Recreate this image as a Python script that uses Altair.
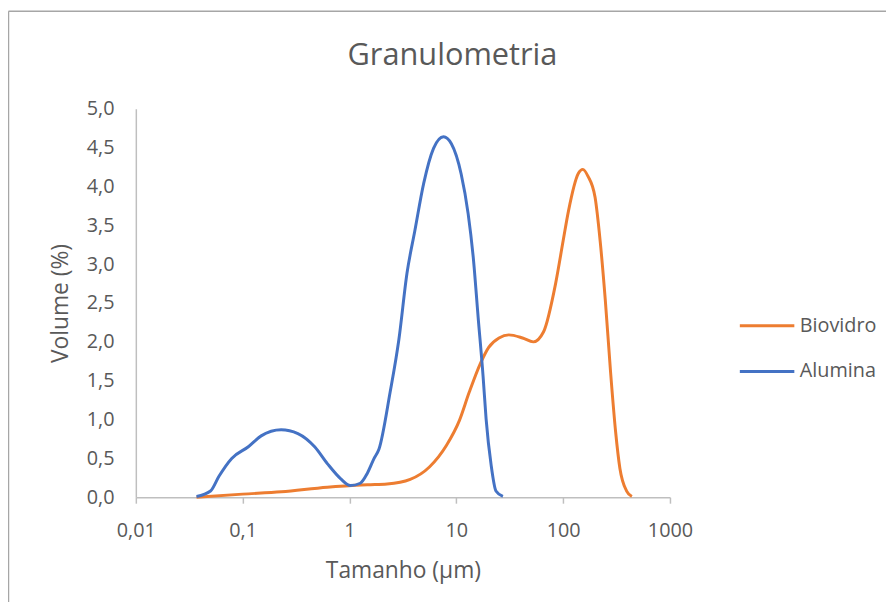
import altair as alt
import pandas as pd

# Alumina (blue)
alumina_x = [0.037, 0.050, 0.060, 0.079, 0.113, 0.149, 0.229, 0.329, 0.472, 0.623, 0.824, 1.02, 1.26, 1.47,
             1.70, 1.89, 2.40, 2.90, 3.45, 4.09, 4.95, 6.12, 7.59, 8.99, 11.1, 12.9, 14.4, 16.0, 17.8, 19.0,
             21.2, 23.5, 27.3]
alumina_y = [0.01, 0.08, 0.27, 0.50, 0.65, 0.79, 0.87, 0.82, 0.65, 0.43, 0.24, 0.15, 0.18, 0.31,
             0.50, 0.62, 1.35, 2.03, 2.88, 3.43, 4.04, 4.49, 4.64, 4.55, 4.16, 3.65, 3.09, 2.32, 1.56, 1.01,
             0.41, 0.08, 0.01]

# Biovidro (orange)
biovidro_x = [0.037, 0.1, 0.23, 0.62, 1.47, 2.25, 3.7, 5.6, 8.1, 10.7, 13.2, 16.9, 20.1, 25.1, 31.0, 41.7,
              52.6, 65.6, 85, 100, 112, 139, 153, 171, 199, 222, 248, 278, 310, 340, 393, 440]
biovidro_y = [0.0, 0.04, 0.07, 0.13, 0.16, 0.17, 0.23, 0.39, 0.67, 0.99, 1.35, 1.73, 1.93, 2.05, 2.09, 2.05,
              2.00, 2.13, 2.75, 3.30, 3.68, 4.17, 4.22, 4.13, 3.86, 3.30, 2.54, 1.61, 0.84, 0.37, 0.08, 0.01]

series = ["Biovidro", "Alumina"]
colors = ["#ED7D31", "#4472C4"]
x_ticks = [0.01, 0.1, 1, 10, 100, 1000]
y_ticks = [0, 0.5, 1, 1.5, 2, 2.5, 3, 3.5, 4, 4.5, 5]

df = pd.concat([
    pd.DataFrame({"x": biovidro_x, "y": biovidro_y, "s": "Biovidro"}),
    pd.DataFrame({"x": alumina_x, "y": alumina_y, "s": "Alumina"}),
])

grey = "#595959"
FONT = "Open Sans"

lines = alt.Chart(df).mark_line(strokeWidth=3, interpolate="monotone").encode(
    x=alt.X("x:Q", scale=alt.Scale(type="log", domain=[0.01, 1000]),
            axis=alt.Axis(title="Tamanho (µm)", values=x_ticks, labelFlush=False,
                          labelExpr="replace(toString(datum.value), '.', ',')",
                          grid=False, domainColor="#bfbfbf", tickColor="#bfbfbf", tickSize=6,
                          domainWidth=1.5, tickWidth=1.5,
                          labelColor=grey, labelFontSize=20, labelFont=FONT, labelPadding=18,
                          titleColor=grey, titleFontSize=23, titleFont=FONT, titleFontWeight="normal",
                          titlePadding=19)),
    y=alt.Y("y:Q", scale=alt.Scale(domain=[0, 5]),
            axis=alt.Axis(title="Volume (%)", values=y_ticks,
                          labelExpr="replace(format(datum.value, '.1f'), '.', ',')",
                          grid=False, domainColor="#bfbfbf", domainWidth=1.5, ticks=False,
                          labelColor=grey, labelFontSize=20, labelFont=FONT, labelPadding=22,
                          titleColor=grey, titleFontSize=23, titleFont=FONT, titleFontWeight="normal",
                          titlePadding=14)),
    color=alt.Color("s:N", scale=alt.Scale(domain=series, range=colors), sort=series,
                    legend=alt.Legend(title=None, orient="none", legendX=608, legendY=190,
                                      symbolType="stroke", symbolStrokeWidth=3, symbolSize=3025,
                                      labelFontSize=20, labelColor=grey, labelFont=FONT,
                                      labelOffset=4, rowPadding=7)),
    order=alt.Order("x:Q"),
)

frame_left = alt.Chart(pd.DataFrame({"k": [0]})).mark_rule(color="#a6a6a6", strokeWidth=1.5).encode(
    x=alt.value(-128.5), y=alt.value(-98.5), y2=alt.value(510)
)
frame_top = alt.Chart(pd.DataFrame({"k": [0]})).mark_rule(color="#a6a6a6", strokeWidth=1.5).encode(
    x=alt.value(-128.5), x2=alt.value(760), y=alt.value(-98.5)
)

chart = alt.layer(lines, frame_left, frame_top).properties(
    width=539, height=392,
    title=alt.TitleParams("Granulometria", fontSize=31, color=grey, font=FONT, fontWeight="normal",
                          anchor="middle", offset=0, dy=62, dx=50),
    autosize=alt.AutoSizeParams(type="none"),
    padding={"left": 129, "top": 99, "right": 218, "bottom": 103},
).configure_view(stroke=None)

chart.save("out.html", embed_options={"renderer": "svg", "actions": False})
